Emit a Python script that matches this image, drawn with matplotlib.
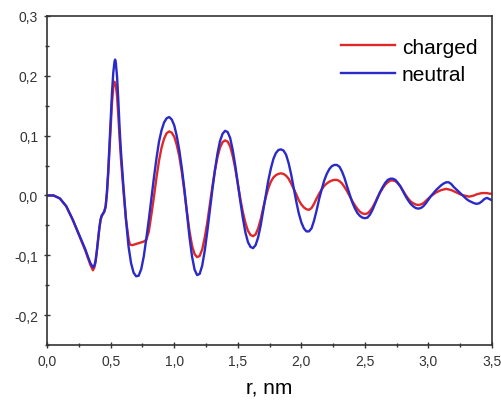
import matplotlib
matplotlib.use("Agg")
import matplotlib.pyplot as plt
from matplotlib.ticker import MultipleLocator, FuncFormatter

plt.rcParams['font.family'] = ['Liberation Sans', 'DejaVu Sans']

r_neutral = [0.00, 0.05, 0.10, 0.15, 0.20, 0.25, 0.30, 0.32, 0.34, 0.36, 0.37, 0.38, 0.39, 0.40,
             0.41, 0.42, 0.43, 0.44, 0.45, 0.46, 0.47, 0.48, 0.49, 0.50, 0.51, 0.52, 0.53, 0.535,
             0.54, 0.55, 0.56, 0.57, 0.58, 0.60, 0.62, 0.64, 0.66, 0.68, 0.70, 0.72, 0.74, 0.76,
             0.78, 0.80, 0.82, 0.84, 0.86, 0.88, 0.90, 0.92, 0.94, 0.96, 0.98, 1.00, 1.02, 1.04,
             1.06, 1.08, 1.10, 1.12, 1.14, 1.16, 1.18, 1.20, 1.22, 1.24, 1.26, 1.28, 1.30, 1.32,
             1.34, 1.36, 1.38, 1.40, 1.42, 1.44, 1.46, 1.48, 1.50, 1.52, 1.54, 1.56, 1.58, 1.60,
             1.62, 1.64, 1.66, 1.68, 1.70, 1.72, 1.74, 1.76, 1.78, 1.80, 1.82, 1.84, 1.86, 1.88,
             1.90, 1.92, 1.94, 1.96, 1.98, 2.00, 2.02, 2.04, 2.06, 2.08, 2.10, 2.12, 2.14, 2.16,
             2.18, 2.20, 2.22, 2.24, 2.26, 2.28, 2.30, 2.32, 2.34, 2.36, 2.38, 2.40, 2.42, 2.44,
             2.46, 2.48, 2.50, 2.52, 2.54, 2.56, 2.58, 2.60, 2.62, 2.64, 2.66, 2.68, 2.70, 2.72,
             2.74, 2.76, 2.78, 2.80, 2.82, 2.84, 2.86, 2.88, 2.90, 2.92, 2.94, 2.96, 2.98, 3.00,
             3.02, 3.04, 3.06, 3.08, 3.10, 3.12, 3.14, 3.16, 3.18, 3.20, 3.22, 3.24, 3.26, 3.28,
             3.30, 3.32, 3.34, 3.36, 3.38, 3.40, 3.42, 3.44, 3.46, 3.48, 3.50]
g_neutral = [0.000, 0.000, -0.005, -0.018, -0.040, -0.065, -0.090, -0.102, -0.113, -0.120, -0.118,
             -0.110, -0.094, -0.075, -0.055, -0.040, -0.033, -0.030, -0.026, -0.018, 0.005, 0.040,
             0.085, 0.130, 0.172, 0.205, 0.224, 0.227, 0.222, 0.198, 0.158, 0.112, 0.075, 0.015,
             -0.040, -0.085, -0.113, -0.129, -0.135, -0.134, -0.123, -0.102, -0.072, -0.040, -0.005,
             0.030, 0.062, 0.090, 0.109, 0.122, 0.129, 0.131, 0.127, 0.117, 0.099, 0.075, 0.045,
             0.010, -0.030, -0.070, -0.102, -0.124, -0.133, -0.131, -0.117, -0.092, -0.060, -0.025,
             0.010, 0.042, 0.070, 0.091, 0.103, 0.108, 0.106, 0.096, 0.076, 0.050, 0.020, -0.010,
             -0.038, -0.062, -0.078, -0.086, -0.088, -0.083, -0.070, -0.050, -0.025, 0.000, 0.025,
             0.045, 0.061, 0.071, 0.076, 0.077, 0.075, 0.068, 0.054, 0.035, 0.012, -0.010, -0.030,
             -0.045, -0.055, -0.060, -0.060, -0.055, -0.042, -0.025, -0.006, 0.010, 0.025, 0.036,
             0.044, 0.049, 0.051, 0.051, 0.048, 0.040, 0.029, 0.015, 0.002, -0.011, -0.021, -0.029,
             -0.034, -0.037, -0.038, -0.037, -0.032, -0.024, -0.014, -0.004, 0.006, 0.014, 0.021,
             0.026, 0.028, 0.028, 0.026, 0.021, 0.015, 0.007, -0.001, -0.008, -0.014, -0.018,
             -0.021, -0.022, -0.021, -0.018, -0.013, -0.007, -0.001, 0.004, 0.009, 0.013, 0.017,
             0.020, 0.022, 0.022, 0.019, 0.014, 0.010, 0.006, 0.002, -0.002, -0.006, -0.009,
             -0.011, -0.013, -0.014, -0.013, -0.010, -0.006, -0.004, -0.006, -0.008]

r_charged = [0.00, 0.05, 0.10, 0.15, 0.20, 0.25, 0.30, 0.32, 0.34, 0.36, 0.37, 0.38, 0.39, 0.40,
             0.41, 0.42, 0.43, 0.44, 0.45, 0.46, 0.47, 0.48, 0.49, 0.50, 0.51, 0.52, 0.53, 0.54,
             0.55, 0.56, 0.57, 0.58, 0.60, 0.62, 0.64, 0.65, 0.67, 0.70, 0.73, 0.76, 0.78, 0.80,
             0.82, 0.84, 0.86, 0.88, 0.90, 0.92, 0.94, 0.96, 0.98, 1.00, 1.02, 1.04, 1.06, 1.08,
             1.10, 1.12, 1.14, 1.16, 1.18, 1.20, 1.22, 1.24, 1.26, 1.28, 1.30, 1.32, 1.34, 1.36,
             1.38, 1.40, 1.42, 1.44, 1.46, 1.48, 1.50, 1.52, 1.54, 1.56, 1.58, 1.60, 1.62, 1.64,
             1.66, 1.68, 1.70, 1.72, 1.74, 1.76, 1.78, 1.80, 1.82, 1.84, 1.86, 1.88, 1.90, 1.92,
             1.94, 1.96, 1.98, 2.00, 2.02, 2.04, 2.06, 2.08, 2.10, 2.12, 2.14, 2.16, 2.18, 2.20,
             2.22, 2.24, 2.26, 2.28, 2.30, 2.32, 2.34, 2.36, 2.38, 2.40, 2.42, 2.44, 2.46, 2.48,
             2.50, 2.52, 2.54, 2.56, 2.58, 2.60, 2.62, 2.64, 2.66, 2.68, 2.70, 2.72, 2.74, 2.76,
             2.78, 2.80, 2.82, 2.84, 2.86, 2.88, 2.90, 2.92, 2.94, 2.96, 2.98, 3.00, 3.02, 3.04,
             3.06, 3.08, 3.10, 3.12, 3.14, 3.16, 3.18, 3.20, 3.22, 3.24, 3.26, 3.28, 3.30, 3.32,
             3.34, 3.36, 3.38, 3.40, 3.42, 3.44, 3.46, 3.48, 3.50]
g_charged = [0.000, 0.000, -0.005, -0.018, -0.040, -0.066, -0.092, -0.104, -0.116, -0.125, -0.121,
             -0.112, -0.095, -0.076, -0.056, -0.041, -0.034, -0.031, -0.027, -0.019, 0.003, 0.035,
             0.075, 0.118, 0.155, 0.180, 0.190, 0.185, 0.165, 0.132, 0.095, 0.062, 0.008, -0.040,
             -0.072, -0.082, -0.083, -0.081, -0.079, -0.077, -0.074, -0.060, -0.032, -0.002, 0.030,
             0.058, 0.080, 0.095, 0.104, 0.107, 0.105, 0.098, 0.084, 0.065, 0.038, 0.006, -0.028,
             -0.060, -0.084, -0.098, -0.103, -0.101, -0.090, -0.070, -0.045, -0.015, 0.015, 0.042,
             0.064, 0.080, 0.089, 0.092, 0.090, 0.082, 0.066, 0.045, 0.020, -0.006, -0.028, -0.046,
             -0.059, -0.066, -0.068, -0.065, -0.055, -0.040, -0.021, -0.003, 0.012, 0.023, 0.030,
             0.034, 0.036, 0.037, 0.036, 0.033, 0.028, 0.020, 0.011, 0.002, -0.008, -0.015, -0.020,
             -0.023, -0.024, -0.021, -0.014, -0.005, 0.003, 0.010, 0.016, 0.020, 0.023, 0.025,
             0.026, 0.026, 0.024, 0.020, 0.014, 0.007, -0.001, -0.009, -0.016, -0.022, -0.027,
             -0.030, -0.031, -0.030, -0.026, -0.020, -0.012, -0.003, 0.005, 0.012, 0.018, 0.022,
             0.025, 0.025, 0.024, 0.020, 0.015, 0.008, 0.001, -0.005, -0.010, -0.013, -0.015,
             -0.016, -0.015, -0.013, -0.009, -0.005, -0.001, 0.002, 0.005, 0.007, 0.009, 0.010,
             0.011, 0.010, 0.009, 0.007, 0.005, 0.003, 0.001, 0.000, -0.001, -0.002, -0.001,
             0.000, 0.002, 0.003, 0.004, 0.004, 0.004, 0.003, 0.003]

labels = ["charged", "neutral"]
colors = ["#e02828", "#2a2ac8"]

fig = plt.figure(figsize=(5.02, 4.02), dpi=100)
ax = fig.add_axes([0.094, 0.139, 0.886, 0.819])

ax.plot(r_charged, g_charged, color=colors[0], lw=1.7, label=labels[0])
ax.plot(r_neutral, g_neutral, color=colors[1], lw=1.7, label=labels[1])

ax.set_xlim(0, 3.5)
ax.set_ylim(-0.25, 0.3)
ax.xaxis.set_major_locator(MultipleLocator(0.5))
ax.xaxis.set_minor_locator(MultipleLocator(0.25))
ax.yaxis.set_major_locator(MultipleLocator(0.1))
ax.yaxis.set_minor_locator(MultipleLocator(0.05))
ax.xaxis.set_major_formatter(FuncFormatter(lambda v, p: f"{v:.1f}".replace(".", ",")))
ax.yaxis.set_major_formatter(FuncFormatter(lambda v, p: f"{v:.1f}".replace(".", ",").replace("-0,0", "0,0")))
ax.tick_params(which='major', direction='inout', length=5, width=1, labelsize=10,
               colors='#333333', pad=4)
ax.tick_params(which='minor', direction='inout', length=3, width=1, colors='#333333')
for s in ax.spines.values():
    s.set_color('#333333')
    s.set_linewidth(1.2)

ax.set_xlabel("r, nm", fontsize=15, labelpad=7)
ax.legend(loc='upper right', bbox_to_anchor=(1.009, 0.991), frameon=False, fontsize=15,
          handlelength=2.6, handletextpad=0.3, borderaxespad=0.5, labelspacing=0.4)

fig.savefig("out.png", dpi=100)
